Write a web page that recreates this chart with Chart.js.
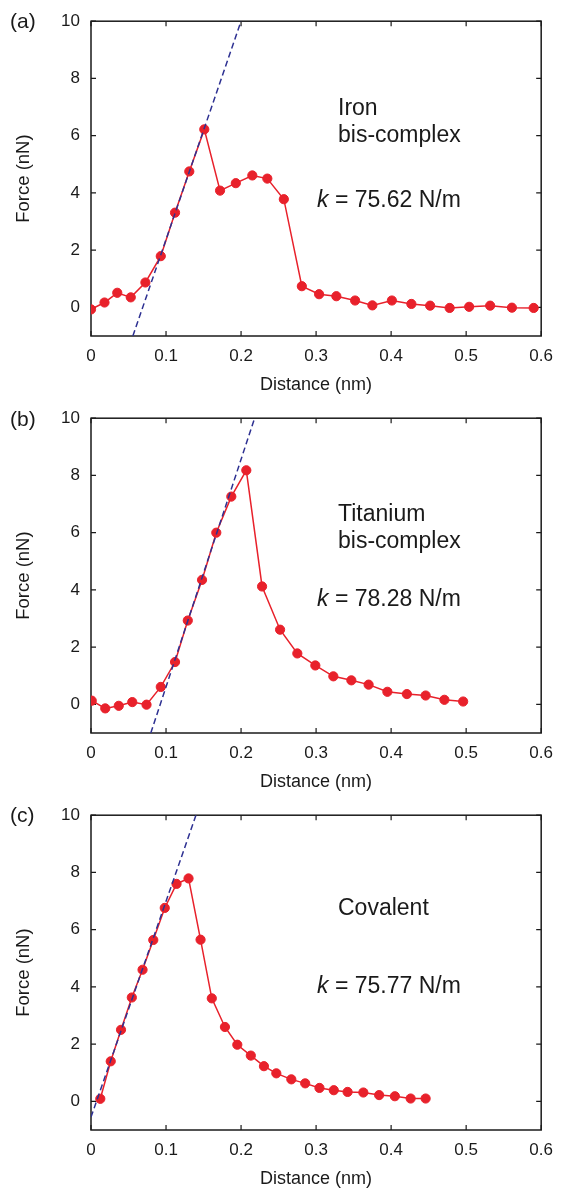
<!DOCTYPE html>
<html>
<head>
<meta charset="utf-8">
<title>Force vs distance</title>
<script src="https://cdn.jsdelivr.net/npm/chart.js@4.4.1/dist/chart.umd.min.js"></script>
<style>
    body {
        margin: 0;
        width: 563px;
        height: 1190px;
        overflow: hidden;
        background: #fff;
        position: relative;
        font-family: "Liberation Sans", Arial, Helvetica, sans-serif;
        color: #1a1a1a;
    }
    canvas { position: absolute; left: 0; }
    .lbl { position: absolute; font-size: 21px; line-height: 24px; }
    .note { position: absolute; font-size: 23px; line-height: 27px; white-space: nowrap; }
</style>
</head>
<body>

<canvas id="grafico-a" width="563" height="398" style="top:0px"></canvas>
<canvas id="grafico-b" width="563" height="398" style="top:397px"></canvas>
<canvas id="grafico-c" width="563" height="398" style="top:794px"></canvas>

<div class="lbl" style="left:10px; top:9px">(a)</div>
<div class="lbl" style="left:10px; top:407px">(b)</div>
<div class="lbl" style="left:10px; top:803px">(c)</div>

<div class="note" style="left:338px; top:94px">Iron<br>bis-complex</div>
<div class="note" style="left:317px; top:186px"><i>k</i> = 75.62 N/m</div>

<div class="note" style="left:338px; top:500px">Titanium<br>bis-complex</div>
<div class="note" style="left:317px; top:585px"><i>k</i> = 78.28 N/m</div>

<div class="note" style="left:338px; top:894px">Covalent</div>
<div class="note" style="left:317px; top:972px"><i>k</i> = 75.77 N/m</div>

<script>
// tick labels
const xTicks = [0, 0.1, 0.2, 0.3, 0.4, 0.5, 0.6];
const yTicks = [0, 2, 4, 6, 8, 10];

// (a) iron bis-complex
const ferroDist = [0, 0.018, 0.035, 0.053, 0.0725, 0.093, 0.112, 0.131, 0.151, 0.172, 0.193, 0.215, 0.235, 0.257,
    0.281, 0.304, 0.327, 0.352, 0.375, 0.401, 0.427, 0.452, 0.478, 0.504, 0.532, 0.561, 0.590];
const ferroForca = [-0.07, 0.17, 0.51, 0.35, 0.87, 1.79, 3.31, 4.75, 6.22, 4.08, 4.34, 4.61, 4.50, 3.78,
    0.74, 0.46, 0.39, 0.24, 0.07, 0.24, 0.12, 0.06, -0.02, 0.02, 0.06, -0.01, -0.02];
const ferroAjusteDist = [0.0558, 0.2000];
const ferroAjusteForca = [-1, 10];

// (b) titanium bis-complex
const titanioDist = [0.001, 0.019, 0.037, 0.055, 0.074, 0.093, 0.112, 0.129, 0.148, 0.167, 0.187, 0.207,
    0.228, 0.252, 0.275, 0.299, 0.323, 0.347, 0.370, 0.395, 0.421, 0.446, 0.471, 0.496];
const titanioForca = [0.13, -0.14, -0.05, 0.08, -0.01, 0.61, 1.48, 2.93, 4.35, 6.00, 7.26, 8.18,
    4.12, 2.61, 1.78, 1.36, 0.98, 0.84, 0.69, 0.44, 0.36, 0.31, 0.16, 0.10];
const titanioAjusteDist = [0.0797, 0.2181];
const titanioAjusteForca = [-1, 10];

// (c) covalent
const covalenteDist = [0.0124, 0.0263, 0.040, 0.0544, 0.0687, 0.083, 0.0983, 0.114, 0.130, 0.146, 0.161, 0.1785,
    0.195, 0.213, 0.2305, 0.247, 0.267, 0.2855, 0.3045, 0.3236, 0.342, 0.363, 0.384, 0.405, 0.426, 0.446];
const covalenteForca = [0.09, 1.40, 2.50, 3.63, 4.60, 5.64, 6.76, 7.60, 7.79, 5.65, 3.60, 2.60,
    1.98, 1.60, 1.23, 0.98, 0.77, 0.63, 0.47, 0.39, 0.33, 0.31, 0.22, 0.18, 0.10, 0.10];
const covalenteAjusteDist = [0, 0.1399];
const covalenteAjusteForca = [-0.55, 10];

const vermelho = '#e8212b';
const azul = '#2e3192';
const preto = '#1a1a1a';

function pontos(xs, ys) {
    return xs.map((x, i) => ({ x: x, y: ys[i] }));
}

// box around the plot with inward ticks on all four sides
const moldura = {
    id: 'moldura',
    beforeDatasetsDraw(chart) {
        const ctx = chart.ctx;
        const a = chart.chartArea;
        const sx = chart.scales.x;
        const sy = chart.scales.y;
        const tam = 5;
        ctx.save();
        ctx.strokeStyle = preto;
        ctx.lineWidth = 1.5;
        ctx.strokeRect(a.left, a.top, a.right - a.left, a.bottom - a.top);
        ctx.lineWidth = 1.2;
        ctx.beginPath();
        xTicks.forEach(v => {
            const px = sx.getPixelForValue(v);
            ctx.moveTo(px, a.bottom);
            ctx.lineTo(px, a.bottom - tam);
            ctx.moveTo(px, a.top);
            ctx.lineTo(px, a.top + tam);
        });
        yTicks.forEach(v => {
            const py = sy.getPixelForValue(v);
            ctx.moveTo(a.left, py);
            ctx.lineTo(a.left + tam, py);
            ctx.moveTo(a.right, py);
            ctx.lineTo(a.right - tam, py);
        });
        ctx.stroke();
        ctx.restore();
    }
};

function gerarGrafico(id, dist, forca, ajDist, ajForca) {
    const ctx = document.getElementById(id).getContext('2d');
    return new Chart(ctx, {
        type: 'scatter',
        data: {
            datasets: [{
                // linear fit, dashed
                data: pontos(ajDist, ajForca),
                showLine: true,
                borderColor: azul,
                borderWidth: 1.5,
                borderDash: [6, 3.5],
                pointRadius: 0,
                order: 0
            }, {
                data: pontos(dist, forca),
                showLine: true,
                borderColor: vermelho,
                backgroundColor: vermelho,
                borderWidth: 1.5,
                pointRadius: 4.6,
                pointBorderWidth: 1,
                pointBorderColor: vermelho,
                pointBackgroundColor: vermelho,
                order: 1
            }]
        },
        options: {
            responsive: false,
            animation: false,
            devicePixelRatio: 1,
            layout: { padding: { top: 19, right: 21, left: 0, bottom: 0 } },
            plugins: {
                legend: { display: false },
                tooltip: { enabled: false }
            },
            scales: {
                x: {
                    type: 'linear',
                    min: 0,
                    max: 0.6,
                    afterBuildTicks: s => { s.ticks = xTicks.map(v => ({ value: v })); },
                    afterFit: s => { s.height = 62; },
                    grid: { display: false, drawTicks: false },
                    border: { display: false },
                    ticks: {
                        padding: 10,
                        color: preto,
                        autoSkip: false,
                        maxRotation: 0,
                        font: { family: '"Liberation Sans", Arial, sans-serif', size: 17 },
                        callback: v => String(v)
                    },
                    title: {
                        display: true,
                        text: 'Distance (nm)',
                        color: preto,
                        font: { family: '"Liberation Sans", Arial, sans-serif', size: 18 },
                        padding: { top: 0, bottom: 2 }
                    }
                },
                y: {
                    type: 'linear',
                    min: -1,
                    max: 10,
                    afterBuildTicks: s => { s.ticks = yTicks.map(v => ({ value: v })); },
                    afterFit: s => { s.width = 91; },
                    grid: { display: false, drawTicks: false },
                    border: { display: false },
                    ticks: {
                        padding: 11,
                        color: preto,
                        font: { family: '"Liberation Sans", Arial, sans-serif', size: 17 },
                        callback: v => String(v)
                    },
                    title: {
                        display: true,
                        text: 'Force (nN)',
                        color: preto,
                        font: { family: '"Liberation Sans", Arial, sans-serif', size: 18.5 },
                        padding: { top: 13, bottom: 0 }
                    }
                }
            }
        },
        plugins: [moldura]
    });
}

gerarGrafico('grafico-a', ferroDist, ferroForca, ferroAjusteDist, ferroAjusteForca);
gerarGrafico('grafico-b', titanioDist, titanioForca, titanioAjusteDist, titanioAjusteForca);
gerarGrafico('grafico-c', covalenteDist, covalenteForca, covalenteAjusteDist, covalenteAjusteForca);
</script>
</body>
</html>
